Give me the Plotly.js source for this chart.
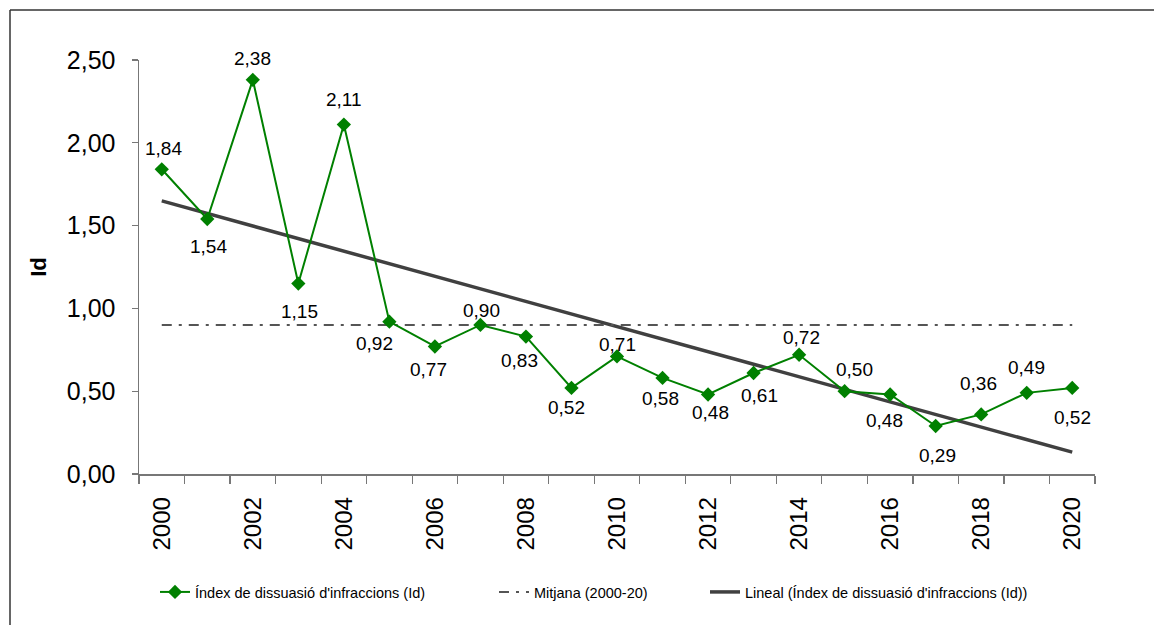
<!DOCTYPE html>
<html>
<head>
<meta charset="utf-8">
<script src="https://cdn.plot.ly/plotly-3.0.1.min.js"></script>
<style>
  html, body { margin: 0; padding: 0; background: #fff; }
  #chart { width: 1154px; height: 625px; }
</style>
</head>
<body>
<div id="chart"></div>
<script>
// ---- Data ----
const years = [2000, 2001, 2002, 2003, 2004, 2005, 2006, 2007, 2008, 2009, 2010,
               2011, 2012, 2013, 2014, 2015, 2016, 2017, 2018, 2019, 2020];
const idValues = [1.84, 1.54, 2.38, 1.15, 2.11, 0.92, 0.77, 0.90, 0.83, 0.52, 0.71,
                  0.58, 0.48, 0.61, 0.72, 0.50, 0.48, 0.29, 0.36, 0.49, 0.52];
const mitjana = 0.90;
const tickYears = [2000, 2002, 2004, 2006, 2008, 2010, 2012, 2014, 2016, 2018, 2020];
const tickLabels = tickYears.map(String);

const seriesName = "Índex de dissuasió d'infraccions (Id)";
const meanName = "Mitjana (2000-20)";
const trendName = "Lineal (Índex de dissuasió d'infraccions (Id))";

// ---- Label placement (style: pixel offsets of each data label) ----
const labelDx = [2, 1, 0, 1, 0, -15, -6, 1, -6, -5, 0, -2, 2, 6, 2, 10, -6, 2, -3, 0, 0];
const labelDy = [21, -28, 21, -28, 25, -22, -23, 14, -24, -20, 12, -21, -18, -23, 17, 22, -26, -30, 31, 25, -30];

// ---- Linear trend (least squares over the series) ----
const n = years.length;
const mx = years.reduce((a, b) => a + b, 0) / n;
const my = idValues.reduce((a, b) => a + b, 0) / n;
let sxy = 0, sxx = 0;
for (let i = 0; i < n; i++) { sxy += (years[i] - mx) * (idValues[i] - my); sxx += (years[i] - mx) ** 2; }
const slope = sxy / sxx;
const intercept = my - slope * mx;
const trendX = [years[0], years[n - 1]];
const trendY = trendX.map(x => intercept + slope * x);

const FONT = "Liberation Sans, Arial, sans-serif";
const GREEN = "#008000";

const traces = [
  {
    x: trendX, y: trendY, type: "scatter", mode: "lines", name: trendName,
    line: { color: "#404040", width: 3.5 }, legend: "legend3"
  },
  {
    x: [years[0], years[n - 1]], y: [mitjana, mitjana], type: "scatter", mode: "lines", name: meanName,
    line: { color: "#555555", width: 2, dash: "10px,7px,3px,7px" }, legend: "legend2"
  },
  {
    x: years, y: idValues, type: "scatter", mode: "lines+markers", name: seriesName,
    line: { color: GREEN, width: 2 },
    marker: { symbol: "diamond", size: 11, color: GREEN },
    legend: "legend"
  }
];

const annotations = years.map((yr, i) => ({
  x: yr, y: idValues[i], xref: "x", yref: "y",
  text: idValues[i].toFixed(2).replace(".", ","),
  showarrow: false, xshift: labelDx[i], yshift: labelDy[i],
  font: { family: FONT, size: 19, color: "#000" }
}));

// plot area: left 139, right 1095, top 60, bottom 474
const L = 139, R = 1095, T = 60, B = 474;
const W = R - L, H = B - T;
const px = p => (p - L) / W;
const py = p => (B - p) / H;

const legendCommon = {
  orientation: "h", yanchor: "middle", xanchor: "left",
  bgcolor: "rgba(0,0,0,0)", font: { family: FONT, size: 14.5, color: "#000" },
  itemwidth: 30, tracegroupgap: 0
};

const layout = {
  width: 1154, height: 625,
  margin: { l: L, r: 1154 - R, t: T, b: 625 - B, pad: 0 },
  paper_bgcolor: "#fff", plot_bgcolor: "#fff",
  separators: ",.",
  showlegend: true,
  hovermode: false,
  font: { family: FONT, color: "#000" },
  xaxis: {
    type: "linear", range: [1999.5, 2020.5],
    tickmode: "array", tickvals: tickYears, ticktext: tickLabels,
    tickangle: -90, ticks: "", ticklabelstandoff: 12,
    tickfont: { family: FONT, size: 24, color: "#000" },
    showline: true, linecolor: "#777", linewidth: 1.5,
    showgrid: false, zeroline: false,
    minor: { ticks: "outside", tick0: 1999.5, dtick: 1, ticklen: 8, tickcolor: "#777", tickwidth: 1.2, showgrid: false }
  },
  yaxis: {
    range: [0, 2.5], tickmode: "linear", tick0: 0, dtick: 0.5, tickformat: ".2f",
    ticks: "outside", ticklen: 6, tickcolor: "#777", tickwidth: 1.2, ticklabelstandoff: 11,
    tickfont: { family: FONT, size: 25, color: "#000" },
    showline: true, linecolor: "#777", linewidth: 1.5,
    showgrid: false, zeroline: false,
    title: { text: "<b>Id</b>", font: { family: FONT, size: 22, color: "#000" }, standoff: 14 }
  },
  legend: Object.assign({}, legendCommon, { x: px(155), y: py(592) }),
  legend2: Object.assign({}, legendCommon, { x: px(494), y: py(592) }),
  legend3: Object.assign({}, legendCommon, { x: px(705), y: py(592) }),
  annotations: annotations,
  shapes: [
    { type: "line", xref: "paper", yref: "paper", x0: px(10), x1: px(10), y0: py(10), y1: py(700),
      line: { color: "#333", width: 1.5 } },
    { type: "line", xref: "paper", yref: "paper", x0: px(10), x1: px(1300), y0: py(10), y1: py(10),
      line: { color: "#333", width: 1.5 } }
  ]
};

Plotly.newPlot("chart", traces, layout, { staticPlot: true, displayModeBar: false });
</script>
</body>
</html>
